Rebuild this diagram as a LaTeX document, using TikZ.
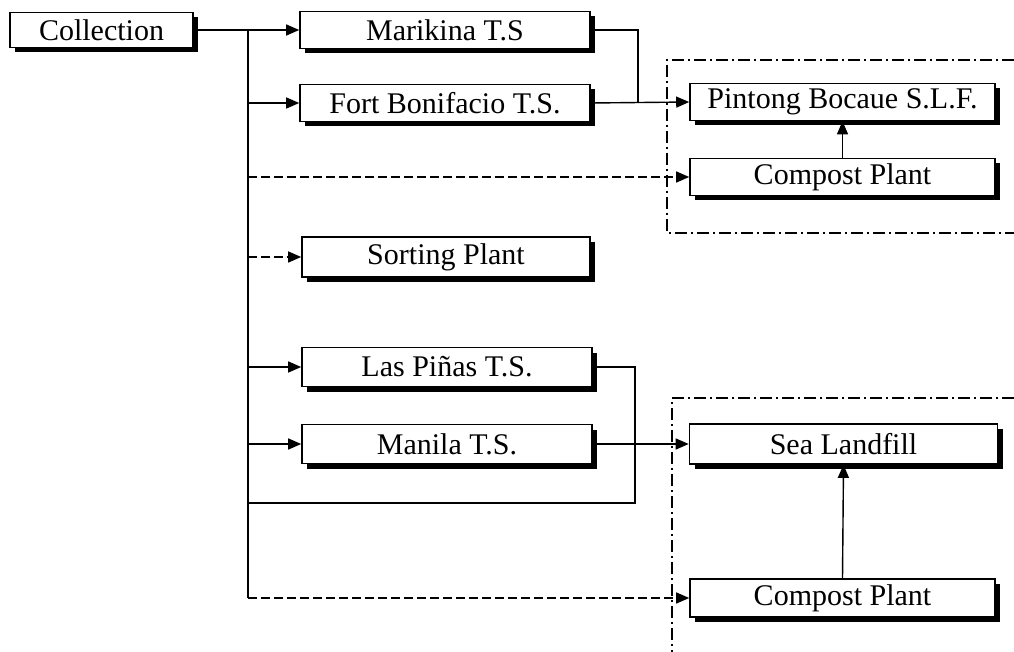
\documentclass[tikz,border=0pt]{standalone}
\usepackage{fontspec}
\setmainfont{Liberation Serif}
\usetikzlibrary{arrows.meta,shadows,calc}

\begin{document}
\begin{tikzpicture}[x=1pt,y=-1pt,
  box/.style={draw, line width=1.6pt, fill=white, minimum width=#1,
    minimum height=37pt, inner sep=0pt,
    font=\fontsize{30}{33}\selectfont,
    drop shadow={shadow xshift=5pt, shadow yshift=-5pt, fill=black, opacity=1}},
  conn/.style={line width=1.4pt},
  link/.style={conn, -{Triangle[length=13pt,width=11pt]}},
  dlink/.style={link, dash pattern=on 9pt off 4pt},
  group/.style={line width=1.3pt, dash pattern=on 12pt off 4pt on 2pt off 4pt}]

  \useasboundingbox (0,0) rectangle (1014,652);

  % facilities
  \node[box=183pt, minimum height=35pt] (collection) at (101.5,30) {Collection};
  \node[box=290pt] (marikina) at (445,30) {Marikina T.S};
  \node[box=290pt] (fort) at (445,103) {Fort Bonifacio T.S.};
  \node[box=305pt] (pintong) at (842.5,102) {Pintong Bocaue S.L.F.};
  \node[box=305pt] (compostA) at (842.5,177) {Compost Plant};
  \node[box=288pt, minimum height=40pt] (sorting) at (446,257) {Sorting Plant};
  \node[box=290pt, minimum height=39pt] (laspinas) at (447,367) {Las Piñas T.S.};
  \node[box=290pt, minimum height=39pt] (manila) at (447,444) {Manila T.S.};
  \node[box=308pt, minimum height=40pt] (sea) at (843.5,444) {Sea Landfill};
  \node[box=305pt, minimum height=38pt] (compostB) at (842.5,598) {Compost Plant};

  % disposal site groupings
  \draw[group] (1014,60) -- (667,60) -- (667,233) -- (1014,233);
  \draw[group] (1014,398) -- (672,398) -- (672,652);

  % distribution trunk
  \coordinate (jtop) at (248,30);
  \coordinate (jbot) at (jtop |- compostB.west);
  \draw[conn] (jtop) -- (jbot);
  \draw[link] (collection.east) -- (marikina.west);
  \draw[link] (jtop |- fort.west) -- (fort.west);
  \draw[dlink] (jtop |- compostA.west) -- (compostA.west);
  \draw[dlink] (jtop |- sorting.west) -- (sorting.west);
  \draw[link] (jtop |- laspinas.west) -- (laspinas.west);
  \draw[link] (jtop |- manila.west) -- (manila.west);
  \draw[dlink] (jbot) -- (compostB.west);

  % transfer stations to landfills
  \coordinate (mk) at (638,0);
  \draw[conn] (marikina.east) -| (mk |- fort.east);
  \draw[link] (fort.east) -- (pintong.west);
  \coordinate (lp) at (635,503);
  \draw[conn] (laspinas.east) -| (lp) -- (lp -| jtop);
  \draw[link] (manila.east) -- (sea.west);

  % compost residue
  \draw[link] (compostA.north) -- (pintong.south);
  \draw[link] (compostB.north) -- (sea.south);
\end{tikzpicture}
\end{document}
